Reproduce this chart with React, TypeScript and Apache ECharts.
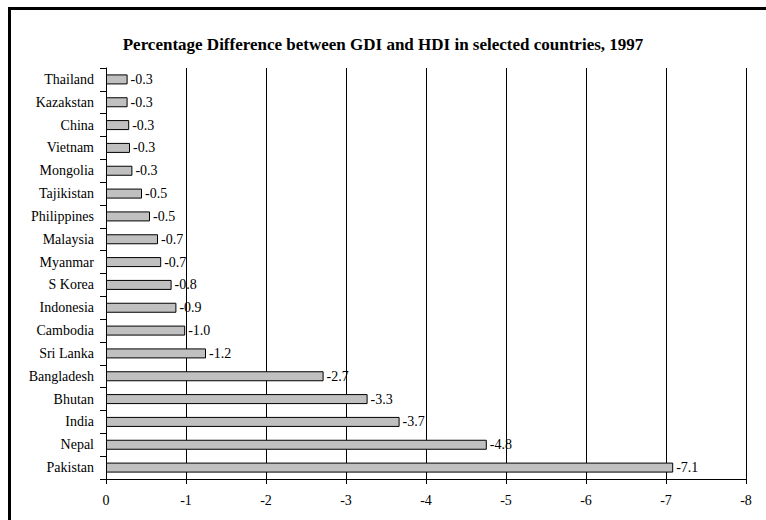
import React, { useEffect, useRef } from "react";
import * as echarts from "echarts";

const countries = [
  "Thailand", "Kazakstan", "China", "Vietnam", "Mongolia", "Tajikistan",
  "Philippines", "Malaysia", "Myanmar", "S Korea", "Indonesia", "Cambodia",
  "Sri Lanka", "Bangladesh", "Bhutan", "India", "Nepal", "Pakistan",
];
const differences = [
  -0.27, -0.27, -0.29, -0.3, -0.33, -0.45, -0.55, -0.65, -0.69, -0.82,
  -0.88, -0.99, -1.25, -2.72, -3.27, -3.67, -4.76, -7.09,
];
const valueLabels = [
  "-0.3", "-0.3", "-0.3", "-0.3", "-0.3", "-0.5", "-0.5", "-0.7", "-0.7",
  "-0.8", "-0.9", "-1.0", "-1.2", "-2.7", "-3.3", "-3.7", "-4.8", "-7.1",
];
const titleText = "Percentage Difference between GDI and HDI in selected countries, 1997";

const FONT = "'Liberation Serif', 'Times New Roman', serif";

export default function App() {
  const ref = useRef<HTMLDivElement>(null);
  useEffect(() => {
    if (!ref.current) return;
    const chart = echarts.init(ref.current, null, { renderer: "svg" });
    chart.setOption({
      animation: false,
      backgroundColor: "#ffffff",
      title: {
        text: titleText,
        left: "center",
        top: 31,
        textStyle: { fontFamily: FONT, fontSize: 17, fontWeight: "bold", color: "#000" },
      },
      graphic: [
        { type: "rect", shape: { x: 8, y: 7, width: 758, height: 3 }, style: { fill: "#000" } },
        { type: "rect", shape: { x: 8, y: 7, width: 3, height: 513 }, style: { fill: "#000" } },
      ],
      grid: { left: 106, right: 20, top: 68, bottom: 41, containLabel: false },
      xAxis: {
        type: "value",
        min: -8,
        max: 0,
        interval: 1,
        inverse: true,
        axisLine: { show: true, lineStyle: { color: "#000", width: 1 } },
        axisTick: { show: true, length: 5, lineStyle: { color: "#000" } },
        axisLabel: { fontFamily: FONT, fontSize: 14, color: "#000", margin: 14 },
        splitLine: { show: true, lineStyle: { color: "#000", width: 1 } },
      },
      yAxis: {
        type: "category",
        data: countries,
        inverse: true,
        axisLine: { show: true, lineStyle: { color: "#000", width: 1 } },
        axisTick: { show: true, length: 6, lineStyle: { color: "#000" } },
        axisLabel: { fontFamily: FONT, fontSize: 14, color: "#000", margin: 12 },
        splitLine: { show: false },
      },
      series: [
        {
          type: "bar",
          data: differences,
          barWidth: 10,
          itemStyle: { color: "#c0c0c0", borderColor: "#000", borderWidth: 1 },
          label: {
            show: true,
            position: "right",
            distance: 3,
            fontFamily: FONT,
            fontSize: 14,
            color: "#000",
            formatter: (p: any) => valueLabels[p.dataIndex],
          },
        },
      ],
    });
    return () => chart.dispose();
  }, []);
  return <div ref={ref} style={{ width: 766, height: 520, position: "fixed", left: 0, top: 0 }} />;
}
